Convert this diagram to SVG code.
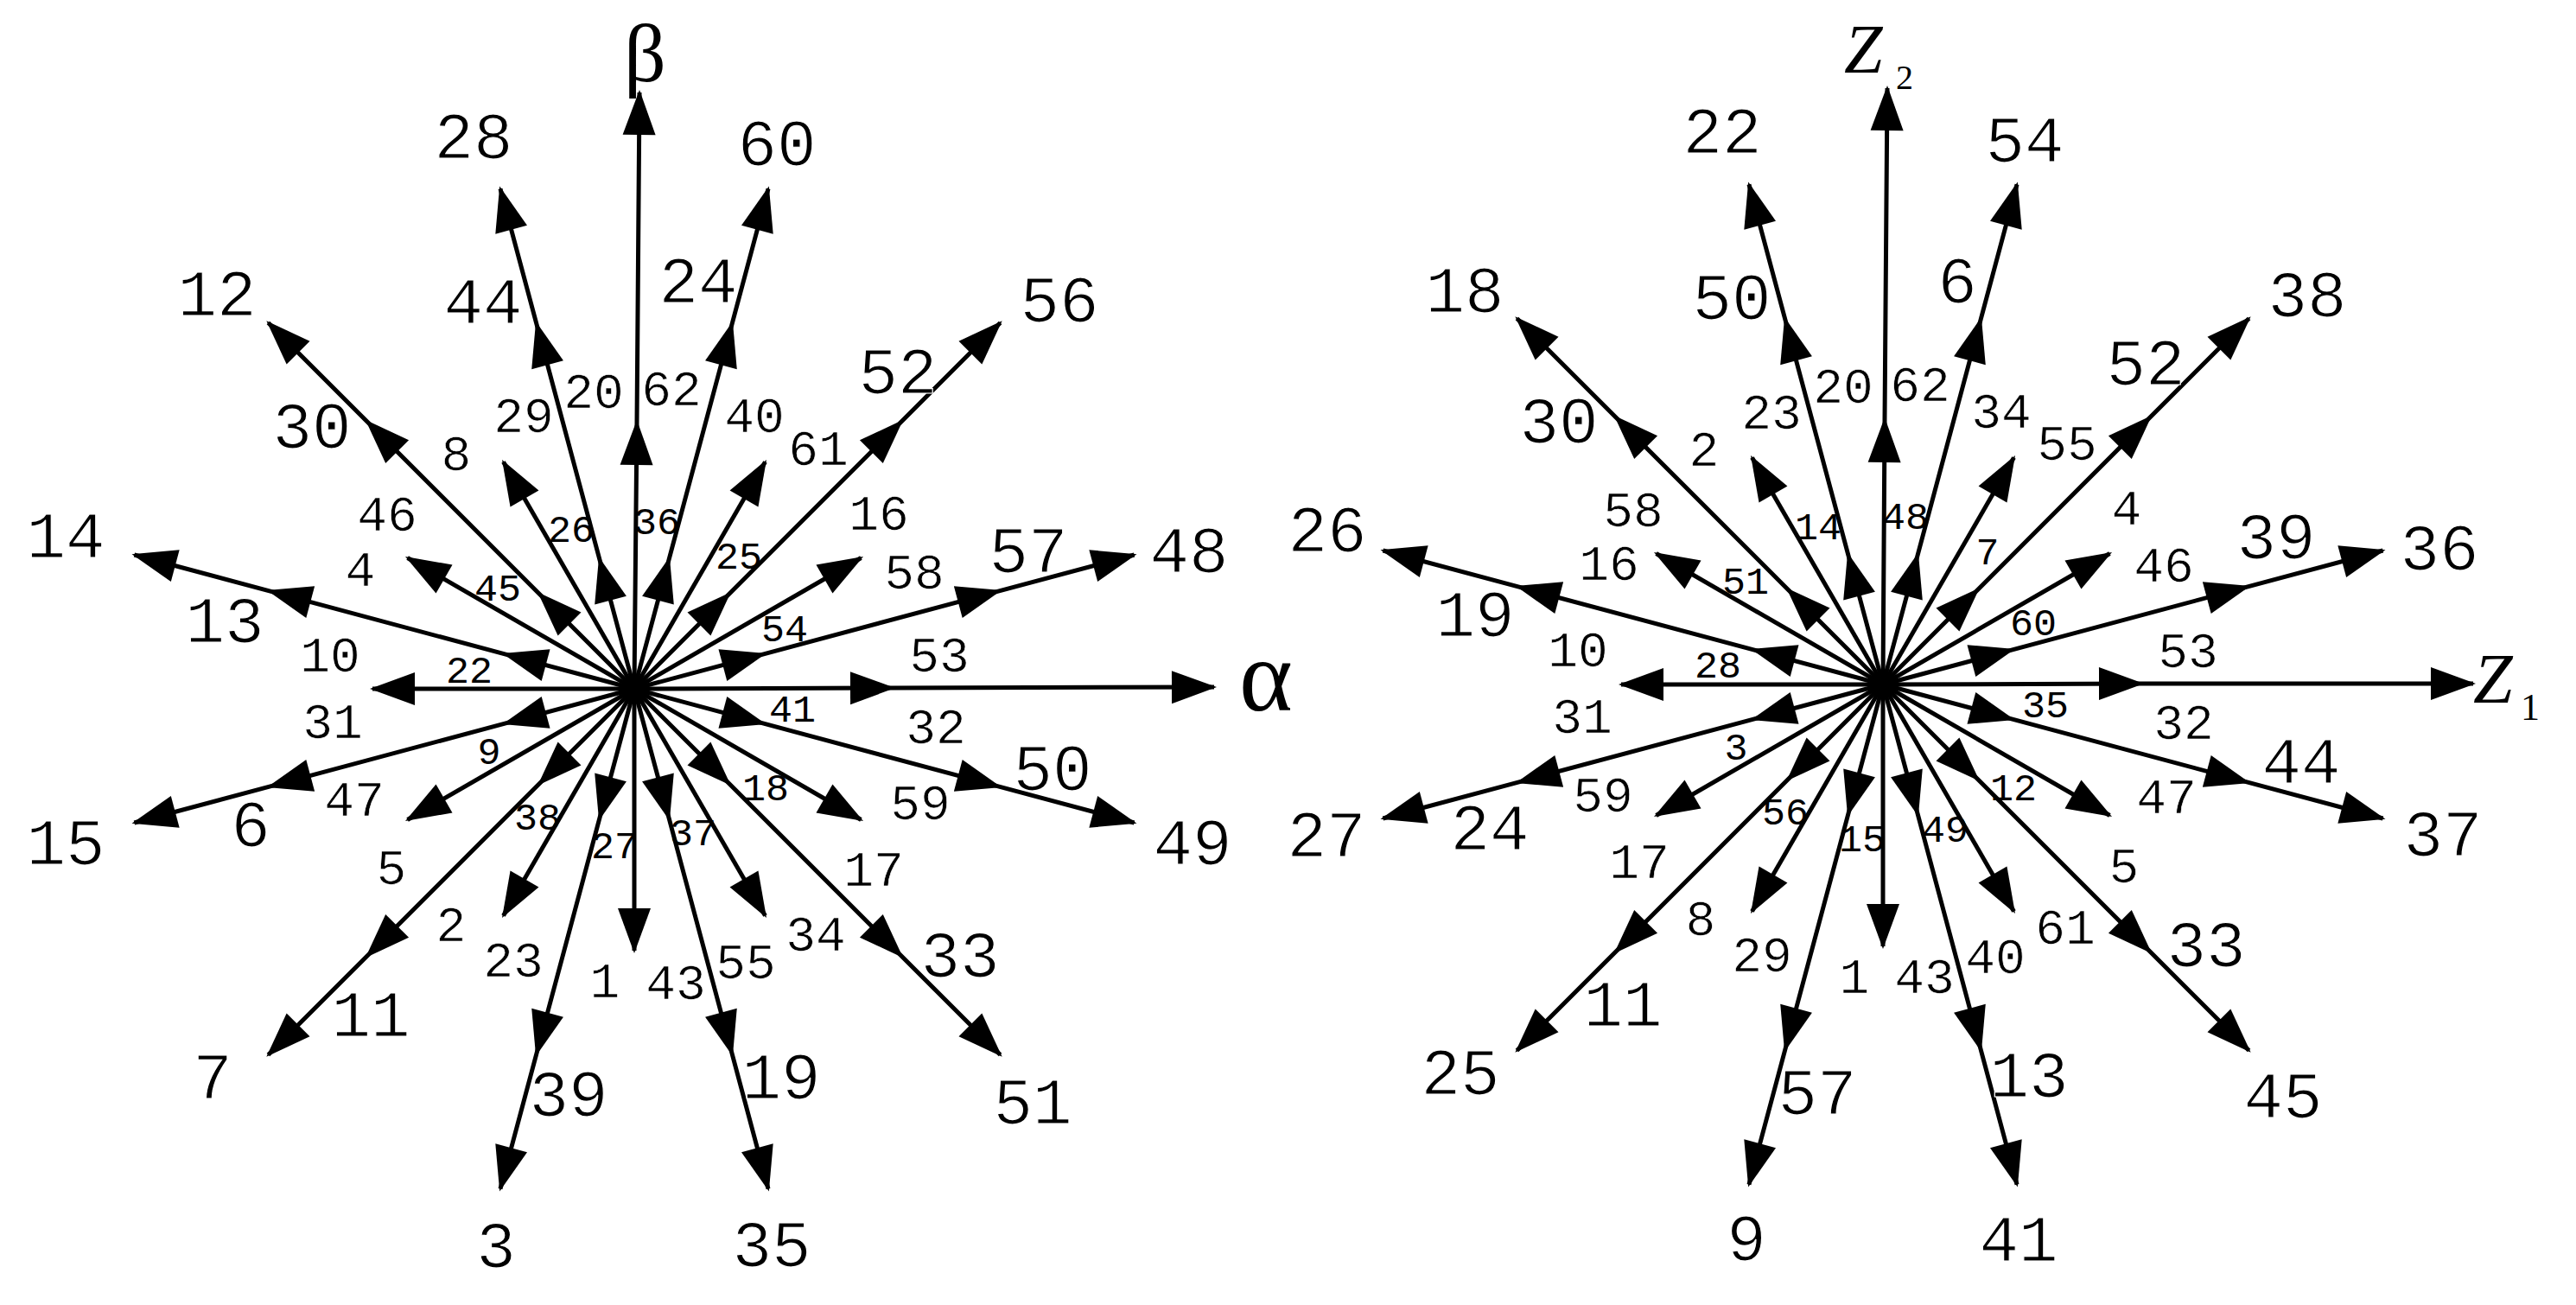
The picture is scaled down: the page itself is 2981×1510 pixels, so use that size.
<svg xmlns="http://www.w3.org/2000/svg" width="2981" height="1510" viewBox="0 0 2981 1510">
<defs>
<marker id="ah" viewBox="-52 -19 55 38" refX="0" refY="0" markerWidth="55" markerHeight="38" markerUnits="userSpaceOnUse" orient="auto" overflow="visible"><path d="M3 0L-49 -19L-49 19Z" fill="#000"/></marker>
</defs>
<style>
.c path{fill:none;stroke:#000;stroke-width:5;marker-mid:url(#ah);marker-end:url(#ah)}
text{fill:#000}
.n text{font-family:"Liberation Mono","DejaVu Sans Mono",monospace;text-anchor:middle}
.L{font-size:76px;stroke:#fff;stroke-width:1.2}
.M{font-size:58px;stroke:#fff;stroke-width:0.7}
.S{font-size:45px}
.ax{font-family:"Liberation Serif","Times New Roman",serif}
</style>
<rect width="2981" height="1510" fill="#fff"/>

<g id="connectors-left" class="c" transform="translate(734 797)">
<path d="M0 0L299 -1L671 -2"/>
<path d="M0 0L3 -308L6 -690"/>
<path transform="rotate(-15)" d="M0 0H155H437H599"/>
<path transform="rotate(-45)" d="M0 0H155H437H599"/>
<path transform="rotate(-75)" d="M0 0H155H437H599"/>
<path transform="rotate(-105)" d="M0 0H155H437H599"/>
<path transform="rotate(-135)" d="M0 0H155H437H599"/>
<path transform="rotate(-165)" d="M0 0H155H437H599"/>
<path transform="rotate(-195)" d="M0 0H155H437H599"/>
<path transform="rotate(-225)" d="M0 0H155H437H599"/>
<path transform="rotate(-255)" d="M0 0H155H437H599"/>
<path transform="rotate(-285)" d="M0 0H155H437H599"/>
<path transform="rotate(-315)" d="M0 0H155H437H599"/>
<path transform="rotate(-345)" d="M0 0H155H437H599"/>
<path transform="rotate(-30)" d="M0 0H303"/>
<path transform="rotate(-60)" d="M0 0H303"/>
<path transform="rotate(-120)" d="M0 0H303"/>
<path transform="rotate(-150)" d="M0 0H303"/>
<path transform="rotate(-180)" d="M0 0H303"/>
<path transform="rotate(-210)" d="M0 0H303"/>
<path transform="rotate(-240)" d="M0 0H303"/>
<path transform="rotate(-270)" d="M0 0H303"/>
<path transform="rotate(-300)" d="M0 0H303"/>
<path transform="rotate(-330)" d="M0 0H303"/>
</g>

<g id="connectors-right" class="c" transform="translate(2179 792)">
<path d="M0 0L299 -1L683 -1"/>
<path d="M0 0L2 -306L5 -690"/>
<path transform="rotate(-15)" d="M0 0H155H437H599"/>
<path transform="rotate(-45)" d="M0 0H155H437H599"/>
<path transform="rotate(-75)" d="M0 0H155H437H599"/>
<path transform="rotate(-105)" d="M0 0H155H437H599"/>
<path transform="rotate(-135)" d="M0 0H155H437H599"/>
<path transform="rotate(-165)" d="M0 0H155H437H599"/>
<path transform="rotate(-195)" d="M0 0H155H437H599"/>
<path transform="rotate(-225)" d="M0 0H155H437H599"/>
<path transform="rotate(-255)" d="M0 0H155H437H599"/>
<path transform="rotate(-285)" d="M0 0H155H437H599"/>
<path transform="rotate(-315)" d="M0 0H155H437H599"/>
<path transform="rotate(-345)" d="M0 0H155H437H599"/>
<path transform="rotate(-30)" d="M0 0H303"/>
<path transform="rotate(-60)" d="M0 0H303"/>
<path transform="rotate(-120)" d="M0 0H303"/>
<path transform="rotate(-150)" d="M0 0H303"/>
<path transform="rotate(-180)" d="M0 0H303"/>
<path transform="rotate(-210)" d="M0 0H303"/>
<path transform="rotate(-240)" d="M0 0H303"/>
<path transform="rotate(-270)" d="M0 0H303"/>
<path transform="rotate(-300)" d="M0 0H303"/>
<path transform="rotate(-330)" d="M0 0H303"/>
</g>

<g id="axis-labels" class="ax">
<g id="ax-alpha"><text x="1434" y="822" font-size="118">α</text></g>
<g id="ax-beta"><text x="722" y="94" font-size="96">β</text></g>
<g id="ax-z2"><text x="2134" y="84" font-size="80" font-style="italic">Z</text><text x="2194" y="103" font-size="40">2</text></g>
<g id="ax-z1"><text x="2862" y="813" font-size="82" font-style="italic">Z</text><text x="2917" y="833" font-size="44">1</text></g>
</g>

<g id="labels-left" class="n">
<g id="a28"><text class="L" x="548" y="183">28</text></g>
<g id="a44"><text class="L" x="559" y="374">44</text></g>
<g id="a12"><text class="L" x="251" y="365">12</text></g>
<g id="a30"><text class="L" x="361" y="518">30</text></g>
<g id="a14"><text class="L" x="76" y="645">14</text></g>
<g id="a13"><text class="L" x="260" y="743">13</text></g>
<g id="a15"><text class="L" x="76" y="1000">15</text></g>
<g id="a6"><text class="L" x="290" y="979">6</text></g>
<g id="a7"><text class="L" x="246" y="1271">7</text></g>
<g id="a11"><text class="L" x="429" y="1199">11</text></g>
<g id="a3"><text class="L" x="574" y="1466">3</text></g>
<g id="a39"><text class="L" x="658" y="1291">39</text></g>
<g id="a35"><text class="L" x="893" y="1465">35</text></g>
<g id="a19"><text class="L" x="904" y="1271">19</text></g>
<g id="a51"><text class="L" x="1195" y="1300">51</text></g>
<g id="a33"><text class="L" x="1111" y="1130">33</text></g>
<g id="a49"><text class="L" x="1380" y="1000">49</text></g>
<g id="a50"><text class="L" x="1218" y="914">50</text></g>
<g id="a48"><text class="L" x="1376" y="662">48</text></g>
<g id="a57"><text class="L" x="1190" y="662">57</text></g>
<g id="a56"><text class="L" x="1226" y="372">56</text></g>
<g id="a52"><text class="L" x="1039" y="455">52</text></g>
<g id="a60"><text class="L" x="899" y="191">60</text></g>
<g id="a24"><text class="L" x="808" y="350">24</text></g>
<g id="a20"><text class="M" x="687" y="472">20</text></g>
<g id="a62"><text class="M" x="777" y="469">62</text></g>
<g id="a29"><text class="M" x="606" y="500">29</text></g>
<g id="a40"><text class="M" x="873" y="500">40</text></g>
<g id="a8"><text class="M" x="528" y="544">8</text></g>
<g id="a46"><text class="M" x="448" y="614">46</text></g>
<g id="a4"><text class="M" x="417" y="678">4</text></g>
<g id="a61"><text class="M" x="947" y="538">61</text></g>
<g id="a16"><text class="M" x="1017" y="613">16</text></g>
<g id="a58"><text class="M" x="1058" y="681">58</text></g>
<g id="a10"><text class="M" x="382" y="777">10</text></g>
<g id="a53"><text class="M" x="1087" y="777">53</text></g>
<g id="a31"><text class="M" x="385" y="854">31</text></g>
<g id="a32"><text class="M" x="1083" y="860">32</text></g>
<g id="a47"><text class="M" x="410" y="944">47</text></g>
<g id="a59"><text class="M" x="1065" y="948">59</text></g>
<g id="a5"><text class="M" x="453" y="1023">5</text></g>
<g id="a17"><text class="M" x="1011" y="1025">17</text></g>
<g id="a2"><text class="M" x="522" y="1089">2</text></g>
<g id="a34"><text class="M" x="944" y="1100">34</text></g>
<g id="a23"><text class="M" x="594" y="1130">23</text></g>
<g id="a55"><text class="M" x="863" y="1132">55</text></g>
<g id="a1"><text class="M" x="700" y="1154">1</text></g>
<g id="a43"><text class="M" x="782" y="1156">43</text></g>
<g id="a26"><text class="S" x="661" y="627">26</text></g>
<g id="a36"><text class="S" x="760" y="618">36</text></g>
<g id="a45"><text class="S" x="576" y="695">45</text></g>
<g id="a25"><text class="S" x="855" y="658">25</text></g>
<g id="a54"><text class="S" x="908" y="742">54</text></g>
<g id="a22"><text class="S" x="543" y="790">22</text></g>
<g id="a41"><text class="S" x="917" y="835">41</text></g>
<g id="a9"><text class="S" x="566" y="884">9</text></g>
<g id="a38"><text class="S" x="622" y="960">38</text></g>
<g id="a18"><text class="S" x="886" y="926">18</text></g>
<g id="a27"><text class="S" x="711" y="993">27</text></g>
<g id="a37"><text class="S" x="802" y="978">37</text></g>
</g>

<g id="labels-right" class="n">
<g id="b22"><text class="L" x="1993" y="177">22</text></g>
<g id="b50"><text class="L" x="2004" y="369">50</text></g>
<g id="b18"><text class="L" x="1695" y="361">18</text></g>
<g id="b30"><text class="L" x="1804" y="512">30</text></g>
<g id="b26"><text class="L" x="1536" y="638">26</text></g>
<g id="b19"><text class="L" x="1707" y="736">19</text></g>
<g id="b27"><text class="L" x="1535" y="991">27</text></g>
<g id="b24"><text class="L" x="1724" y="983">24</text></g>
<g id="b25"><text class="L" x="1690" y="1266">25</text></g>
<g id="b11"><text class="L" x="1878" y="1187">11</text></g>
<g id="b9"><text class="L" x="2021" y="1458">9</text></g>
<g id="b57"><text class="L" x="2103" y="1289">57</text></g>
<g id="b41"><text class="L" x="2336" y="1459">41</text></g>
<g id="b13"><text class="L" x="2348" y="1269">13</text></g>
<g id="b45"><text class="L" x="2642" y="1293">45</text></g>
<g id="b33"><text class="L" x="2553" y="1118">33</text></g>
<g id="b37"><text class="L" x="2827" y="990">37</text></g>
<g id="b44"><text class="L" x="2663" y="906">44</text></g>
<g id="b36"><text class="L" x="2823" y="659">36</text></g>
<g id="b39"><text class="L" x="2634" y="646">39</text></g>
<g id="b38"><text class="L" x="2670" y="366">38</text></g>
<g id="b52"><text class="L" x="2483" y="445">52</text></g>
<g id="b54"><text class="L" x="2343" y="187">54</text></g>
<g id="b6"><text class="L" x="2265" y="350">6</text></g>
<g id="b23"><text class="M" x="2050" y="496">23</text></g>
<g id="b20"><text class="M" x="2133" y="466">20</text></g>
<g id="b2"><text class="M" x="1972" y="539">2</text></g>
<g id="b58"><text class="M" x="1890" y="609">58</text></g>
<g id="b16"><text class="M" x="1862" y="671">16</text></g>
<g id="b10"><text class="M" x="1826" y="771">10</text></g>
<g id="b31"><text class="M" x="1831" y="848">31</text></g>
<g id="b59"><text class="M" x="1855" y="939">59</text></g>
<g id="b17"><text class="M" x="1897" y="1016">17</text></g>
<g id="b8"><text class="M" x="1968" y="1082">8</text></g>
<g id="b29"><text class="M" x="2039" y="1124">29</text></g>
<g id="b1"><text class="M" x="2146" y="1149">1</text></g>
<g id="b43"><text class="M" x="2227" y="1149">43</text></g>
<g id="b40"><text class="M" x="2309" y="1126">40</text></g>
<g id="b61"><text class="M" x="2390" y="1092">61</text></g>
<g id="b5"><text class="M" x="2458" y="1021">5</text></g>
<g id="b47"><text class="M" x="2507" y="941">47</text></g>
<g id="b32"><text class="M" x="2527" y="855">32</text></g>
<g id="b53"><text class="M" x="2532" y="772">53</text></g>
<g id="b46"><text class="M" x="2504" y="673">46</text></g>
<g id="b4"><text class="M" x="2461" y="607">4</text></g>
<g id="b55"><text class="M" x="2392" y="532">55</text></g>
<g id="b34"><text class="M" x="2316" y="495">34</text></g>
<g id="b62"><text class="M" x="2222" y="464">62</text></g>
<g id="b14"><text class="S" x="2104" y="624">14</text></g>
<g id="b51"><text class="S" x="2020" y="687">51</text></g>
<g id="b28"><text class="S" x="1988" y="784">28</text></g>
<g id="b3"><text class="S" x="2009" y="879">3</text></g>
<g id="b56"><text class="S" x="2066" y="954">56</text></g>
<g id="b15"><text class="S" x="2155" y="985">15</text></g>
<g id="b49"><text class="S" x="2251" y="974">49</text></g>
<g id="b12"><text class="S" x="2330" y="926">12</text></g>
<g id="b35"><text class="S" x="2367" y="830">35</text></g>
<g id="b60"><text class="S" x="2353" y="735">60</text></g>
<g id="b7"><text class="S" x="2300" y="653">7</text></g>
<g id="b48"><text class="S" x="2205" y="612">48</text></g>
</g>
</svg>
